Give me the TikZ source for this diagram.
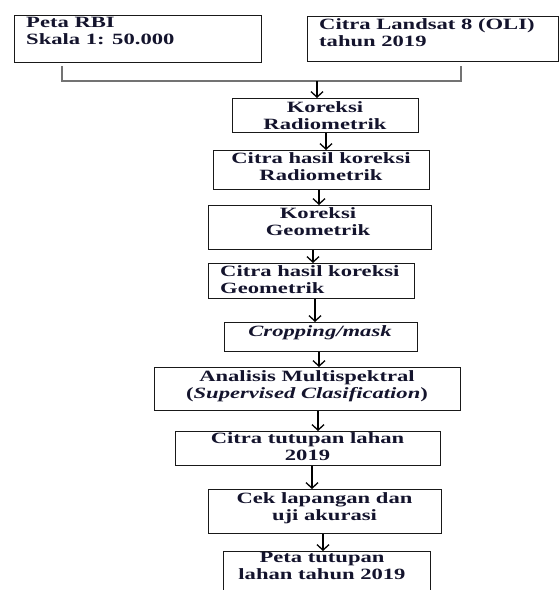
\documentclass[tikz,border=0pt]{standalone}
\usepackage{fontspec}
\setmainfont{Liberation Serif}[FakeStretch=1.44]
\usetikzlibrary{arrows.meta}
\definecolor{boxc}{RGB}{25,25,25}
\definecolor{brkc}{RGB}{115,115,115}
\definecolor{txtc}{RGB}{20,20,45}
\tikzset{
  box/.style={draw=boxc, line width=1.3pt, inner sep=0pt, anchor=north west},
  txt/.style={font=\fontsize{15.7}{16.5}\selectfont\bfseries, text=txtc, inner sep=0pt, align=center, anchor=north},
  ltxt/.style={txt, align=left, anchor=north west},
  arr/.style={draw=black, line width=1.3pt, -{Straight Barb[length=5.5pt,width=12pt,line width=1.3pt]}},
  brk/.style={draw=brkc, line width=2pt}
}
\begin{document}
\begin{tikzpicture}[x=1pt,y=-1pt]
\useasboundingbox (0,0) rectangle (559,590);
\clip (0,0) rectangle (559,590);
% boxes
\node[box, minimum width=247pt, minimum height=47pt] (rbi) at (14,15) {};
\node[box, minimum width=251pt, minimum height=45pt] (lst) at (307,16) {};
\node[box, minimum width=186pt, minimum height=34pt] (kr) at (232,98) {};
\node[box, minimum width=216pt, minimum height=39pt] (chkr) at (213,150) {};
\node[box, minimum width=223pt, minimum height=44pt] (kg) at (208,205) {};
\node[box, minimum width=206pt, minimum height=35pt] (chkg) at (208,263) {};
\node[box, minimum width=193pt, minimum height=29pt] (crop) at (224,322) {};
\node[box, minimum width=306pt, minimum height=43pt] (ana) at (154,367) {};
\node[box, minimum width=265pt, minimum height=34pt] (ctl) at (175,431) {};
\node[box, minimum width=233pt, minimum height=44pt] (cek) at (208,489) {};
\node[box, minimum width=207pt, minimum height=55pt] (ptl) at (223,551) {};
% texts
\node[ltxt] (rbit) at (26,17.5) {Peta RBI\\Skala 1: 50.000};
\node[ltxt] (lstt) at (319,18.5) {Citra Landsat 8 (OLI)\\tahun 2019};
\node[txt] (krt) at (325,101.5) {Koreksi\\Radiometrik};
\node[txt] (chkrt) at (321,152.5) {Citra hasil koreksi\\Radiometrik};
\node[txt] (kgt) at (318,207.5) {Koreksi\\Geometrik};
\node[ltxt] (chkgt) at (220,265.5) {Citra hasil koreksi\\Geometrik};
\node[txt] (cropt) at (320,325.5) {\itshape Cropping/mask};
\node[txt] (anat) at (307,370.5) {Analisis Multispektral\\(\textit{Supervised Clasification})};
\node[txt] (ctlt) at (307.5,432.5) {Citra tutupan lahan\\2019};
\node[txt] (cekt) at (324.5,492.5) {Cek lapangan dan\\uji akurasi};
\node[txt] (ptlt) at (322,552.5) {Peta tutupan\\lahan tahun 2019};
% bracket
\coordinate (bl) at (62,81);
\coordinate (br) at (461,81);
\draw[brk] ([yshift=-2.5pt]rbi.south -| bl) -- (bl) -- (br) -- ([yshift=-3.5pt]lst.south -| br);
% arrow columns
\coordinate (a1) at (317,0);
\coordinate (a2) at (326,0);
\coordinate (a3) at (319,0);
\coordinate (a4) at (313,0);
\coordinate (a5) at (315,0);
\coordinate (a6) at (319,0);
\coordinate (a7) at (318,0);
\coordinate (a8) at (312,0);
\coordinate (a9) at (323,0);
\draw[arr] (bl -| a1) -- (kr.north -| a1);
\draw[arr] (kr.south -| a2) -- (chkr.north -| a2);
\draw[arr] (chkr.south -| a3) -- (kg.north -| a3);
\draw[arr] (kg.south -| a4) -- (chkg.north -| a4);
\draw[arr] (chkg.south -| a5) -- (crop.north -| a5);
\draw[arr] (crop.south -| a6) -- (ana.north -| a6);
\draw[arr] (ana.south -| a7) -- (ctl.north -| a7);
\draw[arr] (ctl.south -| a8) -- (cek.north -| a8);
\draw[arr] (cek.south -| a9) -- (ptl.north -| a9);
\end{tikzpicture}
\end{document}
